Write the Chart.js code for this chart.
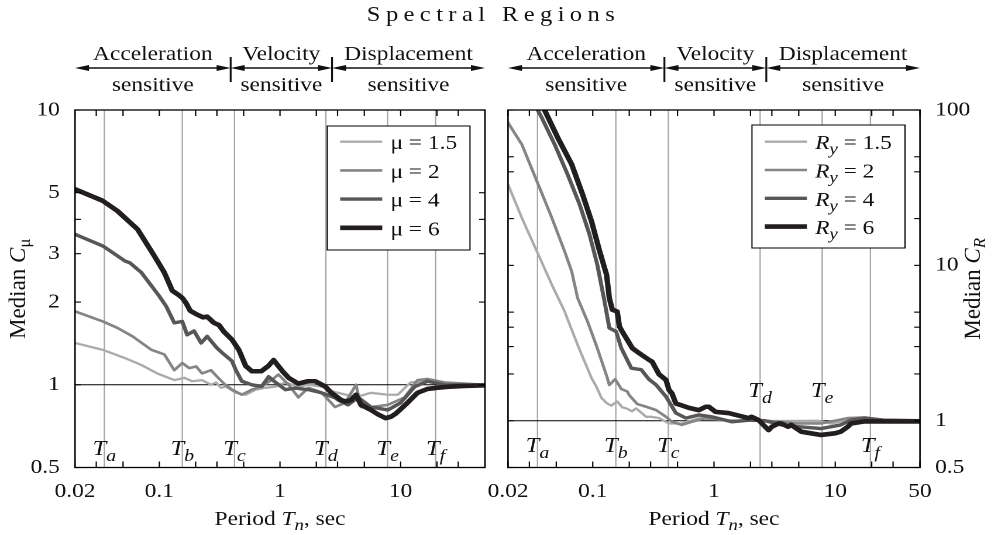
<!DOCTYPE html>
<html>
<head>
<meta charset="utf-8">
<script src="https://cdn.jsdelivr.net/npm/chart.js@4.4.0/dist/chart.umd.min.js"></script>
<style>
  html, body { margin: 0; padding: 0; background: #fff; overflow: hidden; width: 1006px; height: 535px; }
  #wrap { position: absolute; left: 0; top: 0; width: 860px; height: 535px; transform-origin: 0 0; }
  #title { position: absolute; left: 267px; width: 300px; padding-left: 4.8px; top: 2px; text-align: center;
           font: 21px "Liberation Serif", "Times New Roman", serif; letter-spacing: 4.6px; color: #111; white-space: nowrap; }
  #boxL { position: absolute; left: 0; top: 0; width: 430px; height: 535px; }
  #boxR { position: absolute; left: 400px; top: 0; width: 460px; height: 535px; }
</style>
</head>
<body>
<div id="wrap">
  <div id="title">Spectral Regions</div>
  <div id="boxL"><canvas id="left" width="430" height="535"></canvas></div>
  <div id="boxR"><canvas id="right" width="460" height="535"></canvas></div>
</div>
<script>
// the figure is a bit wider than Times lettering, so the whole drawing is stretched sideways
const SX = 1.17;
document.getElementById('wrap').style.transform = 'scaleX(' + SX + ')';

const SERIF = '"Liberation Serif", "Times New Roman", serif';

// ---- left panel: median C_mu, periods T (sec) ----
const tMu15 = [0.02,0.034,0.052,0.071,0.096,0.133,0.161,0.187,0.226,0.268,0.295,0.324,0.356,0.431,0.52,0.63,0.76,0.92,1.11,1.42,1.72,2.2,2.86,3.53,4.19,5.67,7.83,9.46,12.1,15.8,23.1,50];
const cMu15 = [1.42,1.34,1.25,1.18,1.10,1.04,1.06,1.03,1.04,1.0,1.02,0.975,0.985,0.935,0.92,0.96,0.975,0.985,1.02,0.985,1.0,0.985,0.94,0.92,0.9,0.935,0.92,0.92,1.02,1.03,1.01,1.0];
const tMu2 = [0.02,0.034,0.045,0.06,0.086,0.11,0.133,0.155,0.177,0.202,0.226,0.268,0.301,0.343,0.40,0.483,0.584,0.705,0.853,0.97,1.18,1.42,1.72,2.2,2.86,3.47,4.27,4.69,5.67,7.83,10.8,13.8,16.7,23.1,50];
const cMu2 = [1.85,1.70,1.61,1.50,1.34,1.29,1.13,1.20,1.15,1.166,1.10,1.13,1.07,1.01,0.96,0.92,0.96,0.986,1.04,1.09,1.0,0.9,0.975,0.94,0.83,0.86,1.0,0.83,0.83,0.845,0.9,1.04,1.05,1.02,1.0];
const tMu4 = [0.02,0.034,0.052,0.057,0.071,0.1,0.114,0.133,0.155,0.17,0.194,0.222,0.249,0.301,0.33,0.40,0.431,0.483,0.584,0.705,0.805,0.92,1.11,1.34,1.72,2.2,2.86,3.03,3.67,4.44,5.67,7.83,10.0,13.1,16.7,23.1,50];
const cMu4 = [3.53,3.2,2.82,2.78,2.56,2.10,1.93,1.68,1.70,1.52,1.57,1.42,1.50,1.36,1.31,1.22,1.13,1.03,1.0,0.986,1.07,1.02,0.96,0.973,0.96,0.935,0.897,0.88,0.845,0.9,0.83,0.81,0.86,0.985,1.03,1.0,0.995];
const tMu6 = [0.02,0.034,0.045,0.066,0.091,0.11,0.128,0.145,0.155,0.167,0.18,0.206,0.23,0.249,0.284,0.312,0.343,0.4,0.456,0.52,0.584,0.7,0.8,0.885,0.97,1.05,1.18,1.42,1.7,1.96,2.37,2.66,3.21,3.5,3.88,4.27,4.69,5.67,6.5,7.5,8.3,9.1,11.4,13.8,16.7,20,24.4,33.7,50];
const cMu6 = [5.15,4.67,4.29,3.68,2.94,2.56,2.2,2.12,2.07,1.98,1.86,1.80,1.76,1.77,1.68,1.65,1.56,1.46,1.34,1.17,1.12,1.12,1.17,1.23,1.17,1.12,1.06,1.01,1.03,1.03,0.986,0.935,0.88,0.87,0.88,0.92,0.845,0.81,0.78,0.756,0.765,0.785,0.86,0.935,0.966,0.975,0.983,0.99,0.995];

// ---- right panel: median C_R ----
const tRy15 = [0.02,0.026,0.0346,0.046,0.0586,0.075,0.0977,0.107,0.118,0.13,0.142,0.159,0.175,0.19,0.21,0.228,0.276,0.303,0.352,0.425,0.543,0.75,1.4,3.59,7.21,9.23,13,17.5,25,50];
const cRy15 = [33.2,20.2,12.3,7.5,5.05,3.08,1.88,1.66,1.40,1.30,1.25,1.33,1.22,1.20,1.15,1.20,1.06,1.06,1.04,0.96,0.96,1.04,1.0,0.995,1.0,0.96,1.01,1.04,1.01,1.0];
const tRy2 = [0.02,0.026,0.0346,0.046,0.0586,0.067,0.075,0.0906,0.109,0.132,0.137,0.153,0.172,0.193,0.20,0.233,0.276,0.333,0.402,0.45,0.543,0.656,0.855,1.4,2.65,4.94,7.64,12.7,17.5,25,50];
const cRy2 = [83,60,34.8,20.2,12.3,9.15,6.16,4.35,2.93,1.88,1.70,1.85,1.60,1.54,1.46,1.28,1.23,1.17,1.06,0.985,0.94,0.985,1.04,1.0,1.0,0.96,0.96,1.04,1.05,1.01,1.0];
const tRy4 = [0.0333,0.038,0.0485,0.062,0.078,0.094,0.109,0.125,0.137,0.156,0.172,0.208,0.251,0.29,0.333,0.402,0.485,0.586,0.75,0.957,1.4,2.0,2.65,3.59,4.94,7.64,11.1,13.5,17.5,25,50];
const cRy4 = [108,89,60,38.5,24.6,15.8,10.1,5.86,3.95,3.75,2.93,2.18,2.13,1.85,1.70,1.43,1.12,1.04,1.09,1.06,0.985,1.01,1.0,0.94,0.915,0.89,0.94,1.01,1.04,1.01,1.0];
const tRy6 = [0.036,0.040,0.0514,0.067,0.0824,0.0977,0.114,0.130,0.137,0.145,0.159,0.166,0.175,0.20,0.212,0.242,0.265,0.292,0.309,0.352,0.402,0.425,0.45,0.485,0.534,0.621,0.75,0.855,0.906,1.03,1.32,1.59,1.93,2.04,2.33,2.82,3.0,3.40,3.59,4.09,4.33,5.24,7.64,9.95,11.1,12.7,13.5,17.5,50];
const cRy6 = [118,100,66.4,44.7,28.6,19.2,12.3,8.7,6.16,5.18,5.05,4.04,3.75,3.16,2.93,2.72,2.59,2.46,2.40,1.99,1.83,1.58,1.50,1.29,1.26,1.21,1.17,1.23,1.23,1.14,1.12,1.08,1.04,1.06,1.01,0.87,0.915,0.96,0.96,0.915,0.94,0.85,0.81,0.83,0.85,0.915,0.96,0.99,0.99];

const levels = ['1.5', '2', '4', '6'];

// spectral region stuff
const periodLines = [0.035, 0.155, 0.42, 2.4, 7.8, 19.5];
const periodNames = ['a', 'b', 'c', 'd', 'e', 'f'];
const regionBounds = [0.39, 2.7];
const regionTop = ['Acceleration', 'Velocity', 'Displacement'];
const regionBottom = 'sensitive';

// axes
const xMinorTicks = [0.02,0.03,0.05,0.1,0.2,0.3,0.5,1,2,3,5,10,20,30,50];
const yLabelsL = [0.5, 1, 2, 3, 5, 10];
const yMinorL = [0.5, 1, 2, 3, 4, 5, 10];
const yLabelsR = [0.5, 1, 10, 100];
const yMinorR = [0.5, 1, 2, 3, 4, 5, 10, 20, 40, 50, 100];

const lineColors = ['#ababab', '#858585', '#575757', '#221e1f'];

const f = (size, it) => (it ? 'italic ' : '') + size + 'px ' + SERIF;

function seg(ctx, x1, y1, x2, y2) {
    ctx.beginPath(); ctx.moveTo(x1, y1); ctx.lineTo(x2, y2); ctx.stroke();
}

function drawRich(ctx, parts, x, y, align) {
    let w = 0;
    parts.forEach(p => { ctx.font = p.font; p.w = ctx.measureText(p.t).width; w += p.w; });
    let cx = align === 'center' ? x - w / 2 : x;
    ctx.textAlign = 'left';
    ctx.textBaseline = 'alphabetic';
    parts.forEach(p => { ctx.font = p.font; ctx.fillText(p.t, cx, y + (p.dy || 0)); cx += p.w; });
}

function arrowHead(ctx, x, y, dir) {
    ctx.beginPath();
    ctx.moveTo(x, y);
    ctx.lineTo(x - dir * 12, y - 3);
    ctx.lineTo(x - dir * 12, y + 3);
    ctx.closePath();
    ctx.fill();
}

function decor(p) {
    return {
        id: 'decor',
        beforeDatasetsDraw(chart) {
            const { ctx, chartArea: a } = chart;
            const xs = chart.scales.x, ys = chart.scales.y;
            ctx.save();
            ctx.strokeStyle = '#a3a3a3';
            ctx.lineWidth = 1.1;
            periodLines.forEach(t => { const x = xs.getPixelForValue(t); seg(ctx, x, a.top, x, a.bottom); });
            ctx.strokeStyle = '#000';
            ctx.lineWidth = 1;
            const y1 = ys.getPixelForValue(1);
            seg(ctx, a.left, y1, a.right, y1);
            ctx.restore();
        },
        afterDatasetsDraw(chart) {
            const { ctx, chartArea: a } = chart;
            const xs = chart.scales.x, ys = chart.scales.y;
            ctx.save();
            // frame + inward ticks
            ctx.strokeStyle = '#000';
            ctx.lineWidth = 1.3;
            ctx.strokeRect(a.left, a.top, a.right - a.left, a.bottom - a.top);
            ctx.lineWidth = 1.1;
            xMinorTicks.forEach(t => {
                const x = xs.getPixelForValue(t);
                seg(ctx, x, a.bottom, x, a.bottom - 6);
                seg(ctx, x, a.top, x, a.top + 6);
            });
            p.yMinor.forEach(v => {
                const y = ys.getPixelForValue(v);
                seg(ctx, a.left, y, a.left + 5, y);
                seg(ctx, a.right, y, a.right - 5, y);
            });
            // T labels
            ctx.fillStyle = '#111';
            periodLines.forEach((t, i) => {
                const x = xs.getPixelForValue(t);
                drawRich(ctx, [{ t: 'T', font: f(21, true) }, { t: periodNames[i], font: f(17, true), dy: 6 }],
                    x, a.bottom - p.tRise[i], 'center');
            });
            // legend
            const bx = a.right - 12.8 - p.legendW, by = a.top + p.legendTop;
            ctx.fillStyle = '#fff';
            ctx.fillRect(bx, by, p.legendW, p.legendH);
            ctx.strokeStyle = '#000';
            ctx.lineWidth = 1;
            ctx.strokeRect(bx, by, p.legendW, p.legendH);
            chart.data.datasets.forEach((d, i) => {
                const ry = by + p.rowFirst + i * p.rowStep;
                ctx.strokeStyle = d.borderColor;
                ctx.lineWidth = d.borderWidth;
                seg(ctx, bx + 11, ry, bx + 47, ry);
                ctx.fillStyle = '#111';
                drawRich(ctx, p.legendParts(d.label), bx + 54, ry + 7.5, 'left');
            });
            ctx.restore();
        },
        afterDraw(chart) {
            const { ctx, chartArea: a } = chart;
            const xs = chart.scales.x;
            ctx.save();
            // spectral region arrows
            const yA = a.top - 42;
            const b = [a.left, ...regionBounds.map(t => xs.getPixelForValue(t)), a.right];
            ctx.strokeStyle = '#111';
            ctx.fillStyle = '#111';
            for (let i = 0; i < 3; i++) {
                ctx.lineWidth = 1.5;
                seg(ctx, b[i] + 4, yA, b[i + 1] - 4, yA);
                arrowHead(ctx, b[i], yA, -1);
                arrowHead(ctx, b[i + 1], yA, 1);
                const cx = (b[i] + b[i + 1]) / 2;
                drawRich(ctx, [{ t: regionTop[i], font: f(20) }], cx, a.top - 50, 'center');
                drawRich(ctx, [{ t: regionBottom, font: f(20) }], cx, a.top - 19, 'center');
            }
            ctx.lineWidth = 1.6;
            regionBounds.forEach(t => { const x = xs.getPixelForValue(t); seg(ctx, x, a.top - 53, x, a.top - 28); });
            // x title
            drawRich(ctx, [{ t: 'Period ', font: f(20) }, { t: 'T', font: f(20, true) },
                { t: 'n', font: f(16, true), dy: 5 }, { t: ', sec', font: f(20) }],
                (a.left + a.right) / 2, a.bottom + 57.5, 'center');
            // y title, rotated
            ctx.translate(p.yTitleX(a), (a.top + a.bottom) / 2);
            ctx.rotate(-Math.PI / 2);
            ctx.scale(1, 1 / SX);
            drawRich(ctx, p.yTitle, 0, 0, 'center');
            ctx.restore();
        }
    };
}

function makePanel(canvasId, p) {
    return new Chart(document.getElementById(canvasId), {
        type: 'line',
        data: {
            datasets: p.series.map((s, i) => ({
                label: levels[i],
                data: s[0].map((t, k) => ({ x: t, y: s[1][k] })),
                borderColor: lineColors[i],
                borderWidth: p.widths[i],
                pointRadius: 0,
                tension: 0,
                fill: false,
                borderJoinStyle: 'round',
                borderCapStyle: 'round',
                order: 3 - i
            }))
        },
        options: {
            responsive: false,
            animation: false,
            devicePixelRatio: 2,
            layout: { padding: p.pad },
            plugins: { legend: { display: false }, tooltip: { enabled: false } },
            scales: {
                x: {
                    type: 'logarithmic', min: 0.02, max: 50, position: 'bottom',
                    grid: { display: false }, border: { display: false },
                    afterBuildTicks: sc => { sc.ticks = p.xLabels.map(v => ({ value: v })); },
                    afterFit: sc => { sc.height = 67.5; },
                    ticks: { autoSkip: false, maxRotation: 0, padding: 4, color: '#111',
                             font: { family: SERIF, size: 20 }, callback: v => String(v) }
                },
                y: {
                    type: 'logarithmic', min: p.yMin, max: p.yMax, position: p.yPos,
                    grid: { display: false }, border: { display: false },
                    afterBuildTicks: sc => { sc.ticks = p.yLabels.map(v => ({ value: v })); },
                    afterFit: sc => { sc.width = p.yWidth; },
                    ticks: { autoSkip: false, padding: 5, color: '#111',
                             font: { family: SERIF, size: 20 }, callback: v => String(v) }
                }
            }
        },
        plugins: [decor(p)]
    });
}

makePanel('left', {
    pad: { left: 0, right: 15.5, top: 110, bottom: 0 },
    yPos: 'left', yWidth: 64.1, yMin: 0.5, yMax: 10,
    xLabels: [0.02, 0.1, 1, 10], yLabels: yLabelsL, yMinor: yMinorL,
    series: [[tMu15, cMu15], [tMu2, cMu2], [tMu4, cMu4], [tMu6, cMu6]],
    widths: [2.3, 2.6, 3.4, 4.6],
    tRise: [12.5, 12.5, 12.5, 12.5, 12.5, 12.5],
    legendW: 122, legendH: 124, legendTop: 16, rowFirst: 15.7, rowStep: 28.7,
    legendParts: lv => [{ t: 'μ = ' + lv, font: f(20) }],
    yTitle: [{ t: 'Median ', font: f(23) }, { t: 'C', font: f(23, true) }, { t: 'μ', font: f(17), dy: 5 }],
    yTitleX: a => a.left - 42.7
});

makePanel('right', {
    pad: { left: 34.2, right: 0, top: 110, bottom: 0 },
    yPos: 'right', yWidth: 73.7, yMin: 0.5, yMax: 100,
    xLabels: [0.02, 0.1, 1, 10, 50], yLabels: yLabelsR, yMinor: yMinorR,
    series: [[tRy15, cRy15], [tRy2, cRy2], [tRy4, cRy4], [tRy6, cRy6]],
    widths: [2.3, 2.6, 3.4, 4.6],
    tRise: [15.5, 15.5, 15.5, 70.5, 70.5, 15.5],
    legendW: 130.8, legendH: 123, legendTop: 15, rowFirst: 16.7, rowStep: 28.3,
    legendParts: lv => [{ t: 'R', font: f(20, true) }, { t: 'y', font: f(16, true), dy: 5 }, { t: ' = ' + lv, font: f(20) }],
    yTitle: [{ t: 'Median ', font: f(23) }, { t: 'C', font: f(23, true) }, { t: 'R', font: f(17, true), dy: 5 }],
    yTitleX: a => a.right + 51.3
});
</script>
</body>
</html>
